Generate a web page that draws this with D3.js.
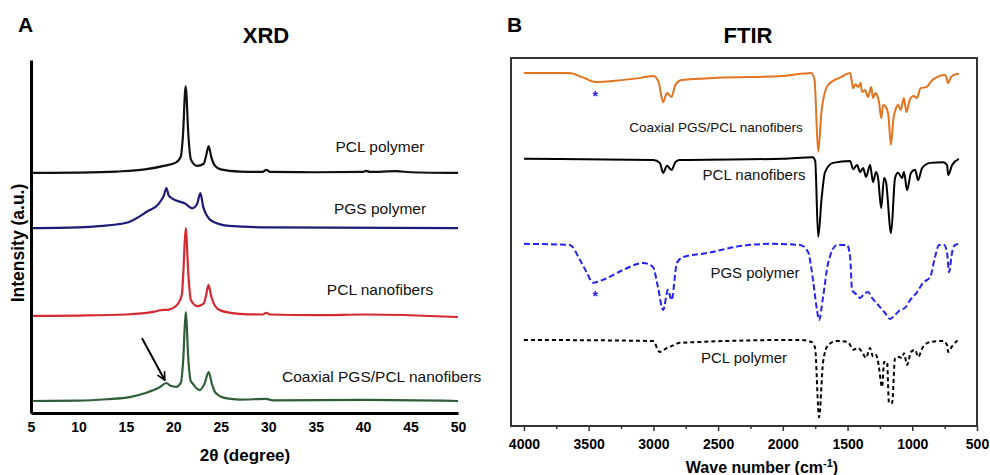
<!DOCTYPE html>
<html>
<head>
<meta charset="utf-8">
<script src="https://cdn.jsdelivr.net/npm/d3@7"></script>
<style>
  body { margin: 0; background: #fff; }
  svg { font-family: "Liberation Sans", Arial, sans-serif; }
</style>
</head>
<body>
<div id="chart"></div>
<script>
const w = 990
const h = 475

// ---- XRD data: [2theta, relative intensity] ----
const xrdNames = ['PCL polymer', 'PGS polymer', 'PCL nanofibers', 'Coaxial PGS/PCL nanofibers']
const xrdColors = ['#111111', '#1c1c78', '#d42a32', '#2f5f36']
const xrdOffsets = [68, 52.4, 27.5, 3.4]

const pclPolymer = [[5,0],[10,0.1],[14,0.4],[17,1.0],[19,2.0],[20.3,3.0],[20.8,4.8],[21.0,10],[21.3,24.5],[21.6,10],[21.85,3.8],[22.5,2.0],[23.2,2.6],[23.45,4.8],[23.72,7.6],[24.0,4.5],[24.4,2.0],[25,1.0],[27,0.4],[29.4,0.3],[29.8,0.9],[30.2,0.3],[35,0.2],[40,0.3],[40.3,0.6],[40.7,0.3],[43.5,0.5],[45,0.2],[50,0]]
const pgsPolymer = [[5,0],[10,0.2],[12.5,0.6],[14,1.0],[15.4,1.8],[17.2,4.6],[18.5,7.0],[19.0,9.2],[19.27,11.3],[19.5,9.3],[19.7,8.7],[20.3,7.8],[21.2,7.0],[22.0,5.6],[22.5,6.8],[22.85,9.9],[23.15,6],[23.5,3.7],[24.1,1.9],[25.9,0.6],[30,0.2],[50,0]]
const pclFibers = [[5,0],[10,0.1],[15,0.4],[18,1.2],[18.6,1.6],[19.5,1.8],[20.5,3.5],[20.9,6],[21.05,12],[21.3,24.9],[21.6,11],[21.85,4.5],[22.5,2.8],[23.2,3.5],[23.45,5.8],[23.7,8.8],[24.0,5.5],[24.4,2.8],[25,1.5],[27,0.6],[29.4,0.4],[29.8,0.9],[30.2,0.4],[35,0.2],[40.3,0.4],[50,-0.3]]
const coaxialFibers = [[5,0],[10,0.1],[13,0.5],[15.4,1.1],[17,2.2],[18.5,3.8],[19.27,5.1],[19.7,4.3],[20.3,4.0],[20.8,5.2],[21.05,12],[21.3,25.2],[21.6,11],[21.85,5.5],[22.0,5.1],[22.3,4.0],[22.77,3.1],[23.3,5.0],[23.72,8.2],[24.05,5],[24.4,2.5],[25.5,0.8],[27,0.4],[29.8,0.6],[30.5,0.2],[40.3,0.3],[50,0]]
const xrdSeries = [pclPolymer, pgsPolymer, pclFibers, coaxialFibers]
const xrdTicks = [5, 10, 15, 20, 25, 30, 35, 40, 45, 50]
const arrowPts = [[16.7, 21.2], [19.1, 9.3]]

// ---- FTIR data: [wave number, stacked transmittance (a.u.)] ----
const ftirNames = ['Coaxial PGS/PCL nanofibers', 'PCL nanofibers', 'PGS polymer', 'PCL polymer']
const ftirColors = ['#e2731f', '#000000', '#2323f5', '#000000']
const ftirDash = [null, null, '6,3', '4,3']

const ftirCoaxial = [[4000,95.9],[3650,95.9],[3550,94.8],[3450,93.5],[3300,93.8],[3100,94.6],[3000,95.1],[2960,93.5],[2925,88.0],[2895,90.5],[2860,89.4],[2830,92.7],[2780,94.0],[2500,94.6],[2000,95.1],[1780,95.9],[1755,94.0],[1727,74.5],[1700,85.9],[1650,92.7],[1550,94.8],[1480,95.9],[1457,91.8],[1440,92.9],[1419,92.1],[1400,93.2],[1388,90.8],[1365,91.3],[1342,89.4],[1318,92.1],[1303,89.1],[1285,90.5],[1272,89.9],[1256,87.8],[1240,83.7],[1225,87.2],[1205,86.7],[1185,84.5],[1165,76.4],[1145,83.7],[1130,85.9],[1110,87.2],[1090,85.9],[1065,89.1],[1045,85.3],[1020,88.6],[990,89.7],[965,89.1],[935,91.8],[890,92.1],[850,93.8],[810,94.8],[750,95.4],[735,94.6],[725,93.2],[700,94.8],[680,95.4],[640,95.7]]
const ftirPclFibers = [[4000,72.6],[3000,72.3],[2950,71.5],[2925,68.8],[2895,70.7],[2860,69.6],[2830,71.7],[2800,72.3],[2000,72.6],[1770,73.0],[1750,72.0],[1727,51.4],[1700,62],[1674,69.0],[1612,71.5],[1480,72.0],[1457,69.8],[1426,70.9],[1403,69.0],[1380,70.1],[1357,67.7],[1326,70.9],[1303,66.3],[1280,69.0],[1264,67.4],[1240,59.2],[1218,67.4],[1203,66.3],[1164,52.4],[1133,67.4],[1110,68.8],[1079,67.4],[1064,69.0],[1040,64.1],[1010,68.8],[978,69.6],[955,66.8],[924,70.1],[862,71.5],[762,71.7],[731,70.9],[723,68.2],[692,70.9],[640,72.6]]
const ftirPgs = [[4000,49.5],[3645,49.2],[3567,45.1],[3513,41.6],[3467,38.9],[3390,39.7],[3235,42.4],[3080,44.3],[3003,43.2],[2965,37.8],[2925,31.5],[2887,37.0],[2860,34.2],[2818,44.3],[2770,45.9],[2586,47.0],[2330,48.9],[2075,49.5],[1867,49.2],[1805,47.3],[1767,39.7],[1736,31.5],[1720,28.8],[1689,35.1],[1650,44.3],[1581,49.2],[1504,49.2],[1480,45.9],[1465,37.0],[1426,35.6],[1403,34.8],[1380,35.6],[1342,36.4],[1311,34.8],[1264,32.9],[1210,30.7],[1172,29.1],[1133,30.2],[1094,31.5],[1056,32.1],[1017,34.2],[963,36.4],[917,38.9],[862,40.5],[824,45.9],[793,49.2],[754,49.2],[731,47.0],[716,41.8],[692,47.3],[669,49.2],[640,49.5]]
const ftirPclPolymer = [[4000,23.4],[3003,23.1],[2950,20.1],[2895,21.2],[2860,21.7],[2794,22.6],[1867,23.4],[1775,22.8],[1751,21.2],[1720,2.4],[1689,17.4],[1650,22.0],[1581,23.1],[1496,22.8],[1457,20.7],[1419,21.2],[1388,20.1],[1357,18.5],[1326,21.2],[1303,18.8],[1280,19.3],[1264,17.4],[1233,10.6],[1218,17.4],[1195,17.4],[1180,6.25],[1156,6.25],[1133,18.5],[1110,18.8],[1079,18.5],[1064,19.8],[1040,16.6],[1010,20.1],[978,20.7],[955,18.8],[917,21.5],[862,22.8],[762,23.1],[731,22.0],[723,20.1],[692,21.7],[646,23.4]]
const ftirSeries = [ftirCoaxial, ftirPclFibers, ftirPgs, ftirPclPolymer]
const ftirTicks = [4000, 3500, 3000, 2500, 2000, 1500, 1000, 500]
const ftirMinor = [3750, 3250, 2750, 2250, 1750, 1250, 750]
const starWaves = [[3450, 90.5], [3450, 36.2]]

const svg = d3.select('#chart')
    .append('svg')
    .attr('width', w)
    .attr('height', h)

// ================= Panel A: XRD =================
const xX = d3.scaleLinear().domain([5, 50]).range([31, 458])
const yX = d3.scaleLinear().domain([0, 100]).range([413, 60])

const xrdLine = d3.line()
    .x(d => xX(d[0]))
    .y(d => d[1])
    .curve(d3.curveMonotoneX)

xrdSeries.forEach((s, i) => {
    svg.append('path')
        .attr('d', xrdLine(s.map(p => [p[0], yX(p[1] + xrdOffsets[i])])))
        .attr('fill', 'none')
        .attr('stroke', xrdColors[i])
        .attr('stroke-width', 2.2)
        .attr('stroke-linejoin', 'round')
})

const xrdXAxis = d3.axisBottom(xX)
    .tickValues(xrdTicks)
    .tickSize(0)
    .tickPadding(9)
    .tickFormat(d3.format('d'))

svg.append('g')
    .attr('transform', 'translate(0,413)')
    .call(xrdXAxis)
    .call(g => g.select('.domain').attr('stroke', '#000').attr('stroke-width', 3))
    .call(g => g.selectAll('text').attr('font-size', 14).attr('font-weight', 'bold').attr('font-family', '"Liberation Sans", Arial, sans-serif').attr('fill', '#000'))

svg.append('g')
    .attr('transform', 'translate(31,0)')
    .call(d3.axisLeft(yX).tickValues([]).tickSizeOuter(0))
    .call(g => g.select('.domain').attr('stroke', '#000').attr('stroke-width', 3))

svg.append('text')
    .attr('x', 245).attr('y', 461)
    .attr('text-anchor', 'middle')
    .attr('font-size', 17).attr('font-weight', 'bold')
    .text('2θ (degree)')

svg.append('text')
    .attr('transform', 'translate(24,243) rotate(-90)')
    .attr('text-anchor', 'middle')
    .attr('font-size', 17.5).attr('font-weight', 'bold')
    .text('Intensity (a.u.)')

svg.append('text').attr('x', 18).attr('y', 32)
    .attr('font-size', 21).attr('font-weight', 'bold').text('A')
svg.append('text').attr('x', 266).attr('y', 43)
    .attr('text-anchor', 'middle')
    .attr('font-size', 22).attr('font-weight', 'bold').text('XRD')

// series labels
const xrdLabelPos = [[380, 152, 'middle'], [380, 214, 'middle'], [380, 295, 'middle'], [282, 382, 'start']]
xrdNames.forEach((n, i) => {
    svg.append('text')
        .attr('x', xrdLabelPos[i][0]).attr('y', xrdLabelPos[i][1])
        .attr('text-anchor', xrdLabelPos[i][2])
        .attr('font-size', 15.5)
        .attr('fill', '#111')
        .text(n)
})

// arrow
svg.append('defs').append('marker')
    .attr('id', 'arrowhead')
    .attr('viewBox', '0 0 10 10')
    .attr('refX', 9).attr('refY', 5)
    .attr('markerWidth', 5).attr('markerHeight', 5)
    .attr('orient', 'auto')
    .append('path')
    .attr('d', 'M1,1 L9,5 L1,9')
    .attr('fill', 'none')
    .attr('stroke', '#000')
    .attr('stroke-width', 1.6)

svg.append('line')
    .attr('x1', xX(arrowPts[0][0])).attr('y1', yX(arrowPts[0][1]))
    .attr('x2', xX(arrowPts[1][0])).attr('y2', yX(arrowPts[1][1]))
    .attr('stroke', '#000')
    .attr('stroke-width', 2)
    .attr('marker-end', 'url(#arrowhead)')

// ================= Panel B: FTIR =================
const xF = d3.scaleLinear().domain([4100, 500]).range([511, 977])
const yF = d3.scaleLinear().domain([0, 100]).range([426, 58])

svg.append('rect')
    .attr('x', 511).attr('y', 58)
    .attr('width', 977 - 511).attr('height', 426 - 58)
    .attr('fill', 'none')
    .attr('stroke', '#333')
    .attr('stroke-width', 2)

const ftirLine = d3.line()
    .x(d => xF(d[0]))
    .y(d => yF(d[1]))
    .curve(d3.curveMonotoneX)

ftirSeries.forEach((s, i) => {
    svg.append('path')
        .attr('d', ftirLine(s))
        .attr('fill', 'none')
        .attr('stroke', ftirColors[i])
        .attr('stroke-width', 2)
        .attr('stroke-dasharray', ftirDash[i])
        .attr('stroke-linejoin', 'round')
})

svg.append('g')
    .attr('transform', 'translate(0,426)')
    .call(d3.axisBottom(xF).tickValues(ftirMinor).tickSize(3).tickFormat(''))
    .call(g => g.select('.domain').remove())
    .call(g => g.selectAll('line').attr('stroke', '#333').attr('stroke-width', 1.5))

svg.append('g')
    .attr('transform', 'translate(0,426)')
    .call(d3.axisBottom(xF).tickValues(ftirTicks).tickSize(5).tickPadding(8).tickFormat(d3.format('d')))
    .call(g => g.select('.domain').remove())
    .call(g => g.selectAll('line').attr('stroke', '#333').attr('stroke-width', 1.5))
    .call(g => g.selectAll('text').attr('font-size', 14).attr('font-weight', 'bold').attr('font-family', '"Liberation Sans", Arial, sans-serif').attr('fill', '#000'))

const wt = svg.append('text')
    .attr('x', 762).attr('y', 473)
    .attr('text-anchor', 'middle')
    .attr('font-size', 16).attr('font-weight', 'bold')
wt.append('tspan').text('Wave number (cm')
wt.append('tspan').attr('dy', -6).attr('font-size', 11).text('-1')
wt.append('tspan').attr('dy', 6).text(')')

svg.append('text').attr('x', 507).attr('y', 32)
    .attr('font-size', 21).attr('font-weight', 'bold').text('B')
svg.append('text').attr('x', 748).attr('y', 43)
    .attr('text-anchor', 'middle')
    .attr('font-size', 22).attr('font-weight', 'bold').text('FTIR')

const ftirLabelPos = [[716, 132, 13.5], [754, 180, 15], [755, 278, 15], [744, 363, 15]]
ftirNames.forEach((n, i) => {
    svg.append('text')
        .attr('x', ftirLabelPos[i][0]).attr('y', ftirLabelPos[i][1])
        .attr('text-anchor', 'middle')
        .attr('font-size', ftirLabelPos[i][2])
        .attr('fill', '#111')
        .text(n)
})

starWaves.forEach(s => {
    svg.append('text')
        .attr('x', xF(s[0])).attr('y', yF(s[1]) + 8)
        .attr('text-anchor', 'middle')
        .attr('font-size', 14)
        .attr('font-weight', 'bold')
        .attr('fill', '#2323f5')
        .text('*')
})
</script>
</body>
</html>
